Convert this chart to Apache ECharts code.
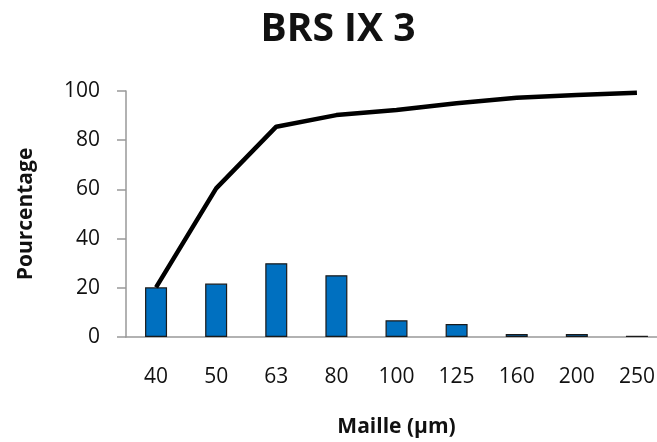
<!DOCTYPE html>
<html><head><meta charset="utf-8">
<script src="https://cdn.jsdelivr.net/npm/echarts@6/dist/echarts.min.js"></script>
<style>html,body{margin:0;padding:0;background:#fff}#c{width:657px;height:442px}</style>
</head><body><div id="c"></div>
<script>
const categories = ['40','50','63','80','100','125','160','200','250'];
const barValues = [20.2, 21.7, 30.0, 25.1, 6.8, 5.3, 1.2, 1.2, 0.5];
const lineValues = [20.2, 60.4, 85.5, 90.2, 92.3, 95.0, 97.3, 98.4, 99.3];
const yTicks = [0, 20, 40, 60, 80, 100];
const FONT = '"Open Sans", sans-serif';
const chart = echarts.init(document.getElementById('c'));
chart.setOption({
  animation: false,
  title: {text: 'BRS IX 3', left: 333, top: 5, textAlign: 'center',
    textStyle: {fontFamily: FONT, fontSize: 39, fontWeight: 'bold', color: '#111'}},
  grid: {left: 126, width: 541, top: 91, height: 246, containLabel: false, outerBoundsMode: 'none'},
  xAxis: {
    type: 'category', data: categories,
    name: 'Maille (µm)', nameLocation: 'middle', nameGap: 80,
    nameTextStyle: {fontFamily: FONT, fontSize: 21, fontWeight: 'bold', color: '#111'},
    axisLine: {lineStyle: {color: '#999', width: 1.5}},
    axisTick: {show: false},
    axisLabel: {fontFamily: FONT, fontSize: 21, color: '#111', margin: 30}
  },
  yAxis: {
    type: 'value', min: 0, max: 100, interval: 20,
    name: 'Pourcentage', nameLocation: 'middle', nameGap: 89, nameRotate: 90,
    nameTextStyle: {fontFamily: FONT, fontSize: 21, fontWeight: 'bold', color: '#111'},
    axisLine: {show: true, lineStyle: {color: '#999', width: 1.5}},
    axisTick: {show: true, length: 9, lineStyle: {color: '#999', width: 1.5}},
    splitLine: {show: false},
    axisLabel: {fontFamily: FONT, fontSize: 21, color: '#111', margin: 26,
      formatter: v => yTicks.includes(v) ? String(v) : ''}
  },
  series: [
    {type: 'bar', data: barValues, barWidth: 22,
      itemStyle: {color: '#0070C0', borderColor: '#1a1a1a', borderWidth: 1.2}},
    {type: 'line', data: lineValues, symbol: 'none', z: 5,
      lineStyle: {color: '#000', width: 4.5}}
  ]
});
</script></body></html>
